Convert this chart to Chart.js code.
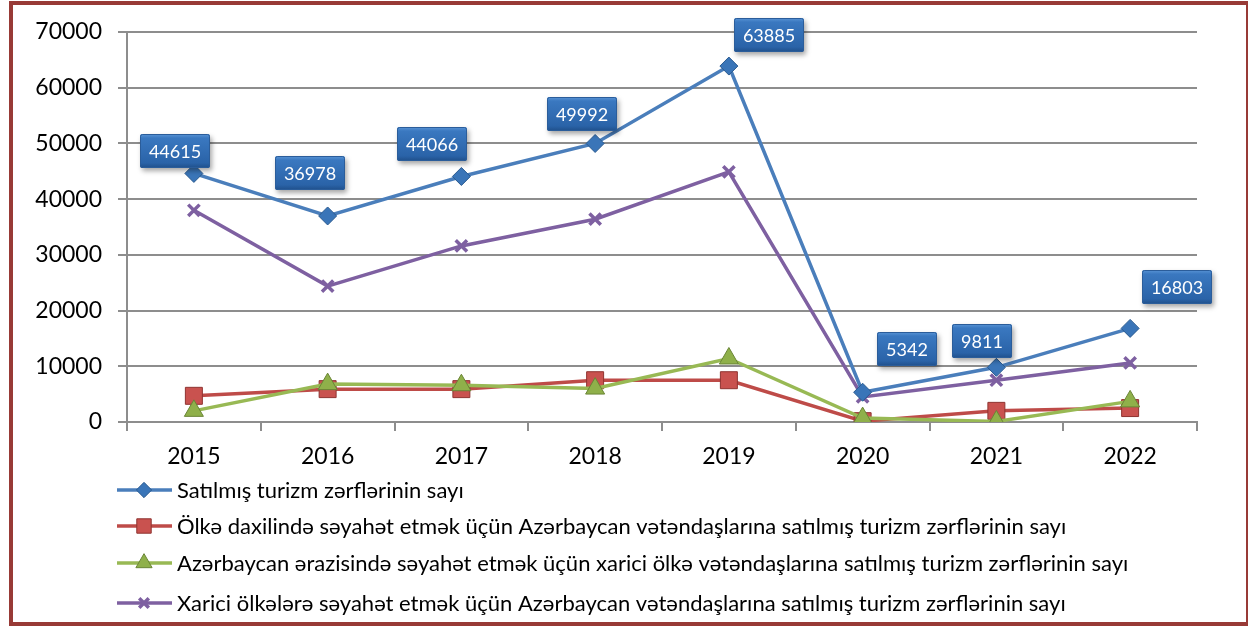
<!DOCTYPE html>
<html>
<head>
<meta charset="utf-8">
<script src="https://cdn.jsdelivr.net/npm/chart.js@4.4.1/dist/chart.umd.min.js"></script>
<style>
  html, body { margin: 0; padding: 0; background: #fff; }
  #wrap { position: relative; width: 1248px; height: 626px; }
  #frame { position: absolute; left: 9px; top: 1px; width: 1233px; height: 617px; border: 4px solid #983a36; pointer-events: none; }
  canvas { position: absolute; left: 0; top: 0; }
</style>
</head>
<body>
<div id="wrap">
  <canvas id="c" width="1248" height="626"></canvas>
  <div id="frame"></div>
</div>
<script>
const years = ['2015', '2016', '2017', '2018', '2019', '2020', '2021', '2022'];
const seriesNames = [
  'Satılmış turizm zərflərinin sayı',
  'Ölkə daxilində səyahət etmək üçün Azərbaycan vətəndaşlarına satılmış turizm zərflərinin sayı',
  'Azərbaycan ərazisində səyahət etmək üçün xarici ölkə vətəndaşlarına satılmış turizm zərflərinin sayı',
  'Xarici ölkələrə səyahət etmək üçün Azərbaycan vətəndaşlarına satılmış turizm zərflərinin sayı'
];
const totalSold = [44615, 36978, 44066, 49992, 63885, 5342, 9811, 16803];
const domesticCitizens = [4700, 5900, 5900, 7500, 7500, 150, 2000, 2500];
const foreignVisitors = [2000, 6800, 6600, 6000, 11400, 700, 100, 3700];
const outboundCitizens = [38000, 24400, 31600, 36400, 44900, 4500, 7500, 10600];
const yTicks = [0, 10000, 20000, 30000, 40000, 50000, 60000, 70000];

const FONT = 'Lato, "Open Sans", sans-serif';

// offsets of the value boxes relative to each point (styling only)
const labelOffsets = [[-19,-22],[-18,-43],[-29,-32],[-13,-29],[40,-31],[44,-43],[-14,-26],[47,-41]];

const styles = [
  { line: '#4a7ebb', fill: '#3a75b8', border: '#2a5a8f', style: 'rectRot', r: 9, bw: 1 },
  { line: '#be4b48', fill: '#c9524f', border: '#8f3431', style: 'rect', r: 12, bw: 1 },
  { line: '#98b954', fill: '#8fb04a', border: '#6a8536', style: 'triangle', r: 11, bw: 1 },
  { line: '#7e60a1', fill: '#7e60a1', border: '#7e60a1', style: 'crossRot', r: 8, bw: 3.5 }
];
const dataArrays = [totalSold, domesticCitizens, foreignVisitors, outboundCitizens];

const datasets = dataArrays.map((d, i) => ({
  label: seriesNames[i],
  data: d,
  borderColor: styles[i].line,
  borderWidth: 3.5,
  pointStyle: styles[i].style,
  pointRadius: styles[i].r,
  pointHoverRadius: styles[i].r,
  pointBackgroundColor: styles[i].fill,
  pointBorderColor: styles[i].border,
  pointBorderWidth: styles[i].bw,
  tension: 0,
  fill: false
}));
datasets[0].order = 0; datasets[3].order = 1; datasets[2].order = 2; datasets[1].order = 3;

function roundRect(ctx, x, y, w, h, r) {
  ctx.beginPath();
  ctx.moveTo(x + r, y);
  ctx.lineTo(x + w - r, y);
  ctx.quadraticCurveTo(x + w, y, x + w, y + r);
  ctx.lineTo(x + w, y + h - r);
  ctx.quadraticCurveTo(x + w, y + h, x + w - r, y + h);
  ctx.lineTo(x + r, y + h);
  ctx.quadraticCurveTo(x, y + h, x, y + h - r);
  ctx.lineTo(x, y + r);
  ctx.quadraticCurveTo(x, y, x + r, y);
  ctx.closePath();
}

const valueBoxes = {
  id: 'valueBoxes',
  afterDatasetsDraw(chart) {
    const ctx = chart.ctx;
    const meta = chart.getDatasetMeta(0);
    ctx.save();
    ctx.font = '18px ' + FONT;
    meta.data.forEach((pt, i) => {
      const txt = String(totalSold[i]);
      const tw = ctx.measureText(txt).width;
      const w = Math.round(tw + 18), h = 34;
      const cx = pt.x + labelOffsets[i][0], cy = pt.y + labelOffsets[i][1];
      const x = Math.round(cx - w / 2), y = Math.round(cy - h / 2);
      ctx.save();
      ctx.shadowColor = 'rgba(0,0,0,0.35)';
      ctx.shadowBlur = 5;
      ctx.shadowOffsetX = 2;
      ctx.shadowOffsetY = 3;
      roundRect(ctx, x, y, w, h, 2);
      const g = ctx.createLinearGradient(0, y, 0, y + h);
      g.addColorStop(0, '#5a95d6');
      g.addColorStop(0.12, '#3a78c0');
      g.addColorStop(0.85, '#2a63a8');
      g.addColorStop(1, '#1f4f8a');
      ctx.fillStyle = g;
      ctx.fill();
      ctx.restore();
      ctx.strokeStyle = '#2b5d9a';
      ctx.lineWidth = 1;
      roundRect(ctx, x + 0.5, y + 0.5, w - 1, h - 1, 2);
      ctx.stroke();
      ctx.fillStyle = '#ffffff';
      ctx.textAlign = 'center';
      ctx.textBaseline = 'middle';
      ctx.fillText(txt, x + w / 2, y + h / 2 + 1);
    });
    ctx.restore();
  }
};

const customLegend = {
  id: 'customLegend',
  afterDraw(chart) {
    const ctx = chart.ctx;
    const rows = [490, 526, 563, 603];
    ctx.save();
    ctx.font = '22px ' + FONT;
    ctx.textBaseline = 'middle';
    ctx.textAlign = 'left';
    chart.data.datasets.forEach((ds, i) => {
      const y = rows[i];
      ctx.strokeStyle = ds.borderColor;
      ctx.lineWidth = 3.5;
      ctx.beginPath();
      ctx.moveTo(117, y);
      ctx.lineTo(172, y);
      ctx.stroke();
      ctx.fillStyle = ds.pointBackgroundColor;
      ctx.strokeStyle = ds.pointBorderColor;
      ctx.lineWidth = ds.pointBorderWidth;
      Chart.helpers.drawPoint(ctx, { pointStyle: ds.pointStyle, radius: ds.pointRadius * 0.85, rotation: 0, borderWidth: ds.pointBorderWidth }, 144, y);
      ctx.fillStyle = '#000';
      ctx.fillText(ds.label, 177, y + 1);
    });
    ctx.restore();
  }
};

new Chart(document.getElementById('c'), {
  type: 'line',
  data: { labels: years, datasets },
  plugins: [valueBoxes, customLegend],
  options: {
    responsive: false,
    animation: false,
    events: [],
    layout: { padding: { top: 32, left: 14, right: 51, bottom: 154 } },
    plugins: { legend: { display: false }, tooltip: { enabled: false } },
    scales: {
      x: {
        offset: true,
        grid: { display: true, drawOnChartArea: false, drawTicks: true, tickLength: 9, offset: true, color: '#8d8d8d', lineWidth: 2 },
        border: { display: true, color: '#8d8d8d', width: 2 },
        ticks: { color: '#000', font: { family: FONT, size: 23 }, padding: 12 },
        afterFit(s) { s.height = 50; }
      },
      y: {
        min: 0, max: 70000,
        afterBuildTicks(s) { s.ticks = yTicks.map(v => ({ value: v })); },
        grid: { color: '#8d8d8d', lineWidth: 2, tickLength: 9, drawTicks: true },
        border: { display: true, color: '#8d8d8d', width: 2 },
        ticks: { color: '#000', font: { family: FONT, size: 23 }, padding: 16, callback: (v) => String(v) },
        afterFit(s) { s.width = 113; }
      }
    }
  }
});
</script>
</body>
</html>
